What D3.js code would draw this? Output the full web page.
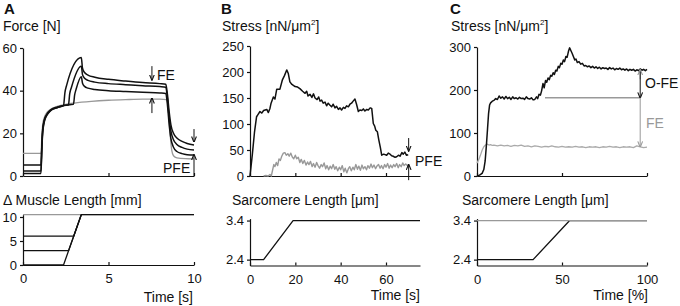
<!DOCTYPE html>
<html>
<head>
<meta charset="utf-8">
<script src="https://cdn.jsdelivr.net/npm/d3@7"></script>
<style>
body{margin:0;background:#fff;}
svg text{font-family:"Liberation Sans",Arial,sans-serif;fill:#111;}
.tick text{font-size:13px;}
.domain,.tick line{stroke:#111;stroke-width:1.2;}
.trace{fill:none;stroke-linejoin:round;}
</style>
</head>
<body>
<div id="chart"></div>
<script>
// ---- panel A: force traces [time s, force N] ----
let forceIso = [[0,10.6],[1.0,10.6],[1.05,10.4],[1.1,18],[1.15,24],[1.25,27.5],[1.4,29.8],[1.6,31.2],[2,32.6],[2.5,33.6],[3,34.2],[4,35],[5,35.5],[6,35.8],[7,36],[8,36],[8.4,35.8],[8.5,31],[8.6,20],[8.7,12],[8.8,9.5],[9,8.5],[9.5,8.1],[10,8]];
let forceStretch0 = [[0,1.2],[1.05,1.2],[1.1,12],[1.15,20],[1.25,25.5],[1.4,28.5],[1.6,30.5],[2,32],[2.37,33],[2.45,39],[2.55,42.5],[3.41,55.5],[3.48,50.5],[3.6,48.5],[3.8,47.3],[4.2,46.3],[5,45.3],[6,44.5],[7,43.8],[8,43.3],[8.35,43],[8.45,38],[8.55,30],[8.65,24],[8.8,20],[9,17.8],[9.3,16.2],[9.6,15.2],[10,14.5]];
let forceStretch3 = [[0,2.3],[1.05,2.3],[1.1,13],[1.15,21],[1.25,26],[1.4,28.8],[1.6,30.7],[2,32.1],[2.4,33],[2.66,33.4],[2.73,38.5],[2.83,41.5],[3.41,51.5],[3.48,47.5],[3.6,45.8],[3.8,44.8],[4.2,44],[5,43.3],[6,42.8],[7,42.3],[8,41.9],[8.35,41.6],[8.45,36],[8.55,27],[8.65,21],[8.8,17],[9,14.8],[9.3,13.4],[9.6,12.6],[10,12.2]];
let forceStretch6 = [[0,5.1],[1.05,5.1],[1.1,14],[1.15,22],[1.25,26.5],[1.4,29],[1.6,30.9],[2,32.3],[2.4,33.1],[2.95,33.6],[3.02,38],[3.1,40.5],[3.41,46.5],[3.48,43.5],[3.6,42],[3.8,41.2],[4.2,40.6],[5,40],[6,39.6],[7,39.2],[8,38.9],[8.35,38.7],[8.45,33],[8.55,24],[8.65,17.5],[8.8,13.5],[9,11.5],[9.3,10.5],[9.6,10],[10,9.8]];

// panel A: muscle length [time s, mm]
let lengthIso = [[0,10.5],[10,10.5]];
let length0 = [[0,0],[2.37,0],[3.41,10.5],[10,10.5]];
let length3 = [[0,3],[2.667,3],[3.41,10.5]];
let length6 = [[0,6],[2.964,6],[3.41,10.5]];

// ---- panel B: stress [time s, nN/um2] ----
let stressStretchB = [[0,0],[1,40],[2,85],[2.9,114],[3.5,118],[4.4,124],[5.2,121],[6,126],[7.4,128],[8.1,122],[8.8,130],[9.3,140],[10.3,152],[11,148],[11.8,167],[13.2,167],[14.3,185],[15.2,193],[16.2,204],[16.9,197],[17.6,181],[18.5,176],[19.9,172],[21,171],[22,168],[23.2,163],[24.3,159],[25,163],[25.6,154],[26.5,157],[27.3,151],[28,158],[28.7,150],[29.6,147],[30.3,152],[30.9,144],[31.6,146],[32.3,140],[33.1,142],[33.8,135],[34.5,140],[35.3,136],[36,133],[36.7,138],[37.5,131],[38.2,134],[39,128],[39.7,131],[40.4,127],[41.2,132],[41.9,130],[42.6,135],[43.4,133],[44.1,138],[44.8,140],[45.5,144],[46.3,148],[47,138],[47.8,124],[48.5,127],[49.3,126],[50,129],[50.7,125],[51.5,128],[52.2,127],[53,131],[53.7,130],[54.4,101],[55,96],[55.5,88],[56.2,85],[56.8,70],[57.5,55],[58.1,40],[59,42],[60.3,40],[61,44],[61.8,42],[62.5,39],[63.2,38],[64,36],[64.7,37],[65.5,40],[66.2,38],[67,45],[67.6,42],[68.3,46],[69,40],[69.8,41]];
let stressPassiveB = [[6,0],[7,1],[8,0],[8.8,3],[9.4,0],[10,12],[10.5,22],[11,18],[11.6,26],[12.2,20],[12.8,33],[13.4,30],[14,38],[14.7,44],[15.4,45],[16,40],[16.7,43],[17.3,38],[18,44],[18.6,37],[19.3,33],[20,40],[20.6,33],[21.3,36],[22,26],[22.6,32],[23.3,24],[24,30],[24.7,21],[25.4,27],[26,22],[26.7,28],[27.4,18],[28,24],[28.7,17],[29.4,26],[30,20],[30.7,15],[31.4,22],[32,18],[32.7,25],[33.4,14],[34,20],[34.7,12],[35.4,19],[36,14],[36.7,22],[37.4,13],[38,18],[38.7,10],[39.4,17],[40,12],[40.7,20],[41.4,8],[42,15],[42.7,6],[43.4,14],[44,18],[44.7,10],[45.4,17],[46,12],[46.7,22],[47.4,13],[48,19],[48.7,11],[49.4,21],[50,14],[50.7,18],[51.4,12],[52,20],[52.7,15],[53.4,23],[54,16],[54.7,21],[55.4,14],[56,19],[56.7,22],[57.4,15],[58,20],[58.7,14],[59.4,22],[60,17],[60.7,24],[61.4,15],[62,21],[62.7,16],[63.4,22],[64,18],[64.7,24],[65.4,16],[66,22],[66.7,18],[67.4,25],[68,20],[68.7,23],[69.4,20],[70,22]];
// sarcomere length [time s, um]
let sarcB = [[0,2.4],[6,2.4],[19,3.4],[75,3.4]];

// ---- panel C: stress [time %, nN/um2] ----
let stressStretchC = [[0,0],[1.5,2],[3,6],[4,15],[4.8,35],[5.5,70],[6.2,110],[6.8,145],[7.4,165],[8,170],[9,174],[10,176],[11,180],[12,178],[13,186],[14,181],[15,184],[16,179],[17,185],[18,180],[19,183],[20,178],[21,184],[22,180],[23,182],[24,179],[25,183],[26,180],[27,181],[28,178],[29,184],[30,180],[31,179],[32,182],[33,177],[34,178],[35,184],[35.7,180],[36.5,190],[37.3,188],[38,198],[38.8,215],[39.5,205],[40.3,222],[41,218],[41.8,228],[42.5,224],[43.3,234],[44,232],[44.8,240],[45.5,236],[46.3,246],[47,244],[47.8,255],[48.5,252],[49.3,262],[50,260],[50.8,270],[51.5,266],[52.3,278],[53,276],[53.8,290],[54.5,298],[55.2,292],[56,285],[56.7,278],[57.5,270],[58.2,272],[59,264],[60,266],[61,260],[62,262],[63,256],[64,257],[65,254],[66,256],[67,252],[68,255],[69,251],[70,254],[71,250],[72,253],[73,249],[74,252],[75,250],[76,251],[77,248],[78,252],[79,249],[80,251],[81,247],[82,250],[83,248],[84,251],[85,247],[86,249],[87,246],[88,249],[89,245],[90,248],[91,246],[92,248],[93,244],[94,247],[95,245],[96,249],[97,246],[98,248],[99,245],[100,248]];
let stressIsoC = [[0,30],[1,38],[2,48],[3,60],[4,68],[5,72],[6,74],[7,72],[8,73],[9,71],[10,72],[12,70],[14,72],[16,70],[18,71],[20,69],[22,71],[24,70],[26,72],[28,69],[30,70],[32,68],[34,70],[36,69],[38,67],[40,69],[42,68],[44,70],[46,68],[48,67],[50,69],[52,67],[54,68],[56,67],[58,69],[60,67],[62,68],[64,66],[66,68],[68,67],[70,68],[72,66],[74,68],[76,67],[78,69],[80,67],[82,68],[84,66],[86,68],[88,67],[90,68],[92,66],[94,70],[96,68],[98,66],[100,67]];
let refLevelC = [[40,182],[96,182]];
let sarcStretchC = [[0,2.4],[33,2.4],[54.5,3.4],[100,3.4]];
let sarcIsoC = [[0,3.4],[100,3.4]];

// tick values
let ticksA = {x:[0,5,10], y:[0,20,40,60], yLen:[0,5,10]};
let ticksB = {x:[0,20,40,60], y:[0,50,100,150,200,250]};
let ticksC = {x:[0,50,100], y:[0,100,200,300]};
let ticksSarc = [2.4,3.4];

// annotation arrows [x, from, to]
let arrowsA = [[7.54,51.5,45,'#111'],[7.54,29.5,36.5,'#111'],[10,22,16,'#111'],[10,0,10,'#111']];
let arrowsB = [[70,73,48,'#111'],[70,-8,22,'#111']];
let arrowsC = [[96,225,247,'#999'],[96,243,182,'#111'],[96,182,68,'#999']];

let svg = d3.select("#chart").append("svg")
    .attr("width", 680)
    .attr("height", 306);

// arrow heads
let defs = svg.append("defs");
[['#111','ab'],['#999','ag']].forEach(c => {
    defs.append("marker")
        .attr("id", c[1])
        .attr("viewBox", "0 0 10 10")
        .attr("refX", 9).attr("refY", 5)
        .attr("markerWidth", 6).attr("markerHeight", 6)
        .attr("markerUnits", "userSpaceOnUse")
        .attr("orient", "auto")
        .append("path")
        .attr("d", "M0,1L10,5L0,9")
        .attr("fill", "none")
        .attr("stroke", c[0])
        .attr("stroke-width", 1.8);
});

function addAxes(x, y, xTicks, yTicks, xLabels, yFmt){
    svg.append("g")
        .attr("transform", `translate(0,${y.range()[0]})`)
        .call(d3.axisBottom(x).tickValues(xTicks).tickSizeInner(-3).tickSizeOuter(0)
            .tickPadding(9).tickFormat(xLabels ? d3.format("d") : ""));
    svg.append("g")
        .attr("transform", `translate(${x.range()[0]},0)`)
        .call(d3.axisLeft(y).tickValues(yTicks).tickSizeInner(3).tickSizeOuter(0)
            .tickPadding(3).tickFormat(yFmt));
}

function addTrace(x, y, data, color, width, curve){
    let line = d3.line()
        .x(d => x(d[0]))
        .y(d => y(d[1]))
        .curve(curve || d3.curveLinear);
    svg.append("path")
        .datum(data)
        .attr("class", "trace")
        .attr("stroke", color)
        .attr("stroke-width", width)
        .attr("d", line);
}

function addArrows(x, y, arrows){
    arrows.forEach(a => {
        svg.append("line")
            .attr("x1", x(a[0])).attr("x2", x(a[0]))
            .attr("y1", y(a[1])).attr("y2", y(a[2]))
            .attr("stroke", a[3])
            .attr("stroke-width", 1)
            .attr("marker-end", a[3] === '#999' ? "url(#ag)" : "url(#ab)");
    });
}

function addText(x, y, txt, opts){
    opts = opts || {};
    return svg.append("text")
        .attr("x", x).attr("y", y)
        .attr("font-size", opts.size || 14)
        .attr("font-weight", opts.bold ? "bold" : "normal")
        .attr("text-anchor", opts.anchor || "start")
        .style("fill", opts.color || "#111")
        .text(txt);
}

function stressTitle(x){
    let t = addText(x, 31, "Stress [nN/\u03bcm");
    t.append("tspan").attr("font-size", 8).attr("dy", -6).text("2");
    t.append("tspan").attr("dy", 6).text("]");
}

let grey = "#999";

// ---------- panel A ----------
let xA = d3.scaleLinear().domain([0,10]).range([23,194]);
let yA = d3.scaleLinear().domain([0,60]).range([176,48]);
addAxes(xA, yA, ticksA.x, ticksA.y, false, d3.format("d"));
addTrace(xA, yA, forceIso, grey, 1.3, d3.curveMonotoneX);
addTrace(xA, yA, forceStretch6, "#111", 1.5, d3.curveMonotoneX);
addTrace(xA, yA, forceStretch3, "#111", 1.5, d3.curveMonotoneX);
addTrace(xA, yA, forceStretch0, "#111", 1.5, d3.curveMonotoneX);
addArrows(xA, yA, arrowsA);

let yAL = d3.scaleLinear().domain([0,10.5]).range([265,214.6]);
addAxes(xA, yAL, ticksA.x, ticksA.yLen, true, d3.format("d"));
addTrace(xA, yAL, lengthIso, grey, 1.3);
addTrace(xA, yAL, length6, "#111", 1.3);
addTrace(xA, yAL, length3, "#111", 1.3);
addTrace(xA, yAL, length0, "#111", 1.3);

addText(4, 14, "A", {bold:true, size:15});
addText(3, 31, "Force [N]");
addText(157, 80, "FE");
addText(163, 173, "PFE");
addText(3, 205, "\u0394 Muscle Length [mm]");
addText(193, 302, "Time [s]", {anchor:"end"});

// ---------- panel B ----------
let xB = d3.scaleLinear().domain([0,75]).range([250,420]);
let yB = d3.scaleLinear().domain([0,250]).range([176,46]);
addAxes(xB, yB, ticksB.x, ticksB.y, false, d3.format("d"));
addTrace(xB, yB, stressPassiveB, grey, 1.4);
addTrace(xB, yB, stressStretchB, "#111", 1.5);
addArrows(xB, yB, arrowsB);

let ySB = d3.scaleLinear().domain([2.25,3.45]).range([265.5,218.6]);
addAxes(xB, ySB, ticksB.x, ticksSarc, true, d3.format(".1f"));
addTrace(xB, ySB, sarcB, "#111", 1.3);

addText(221, 14, "B", {bold:true, size:15});
stressTitle(222);
addText(415, 166, "PFE");
addText(232, 205, "Sarcomere Length [\u03bcm]");
addText(420, 300, "Time [s]", {anchor:"end"});

// ---------- panel C ----------
let xC = d3.scaleLinear().domain([0,100]).range([477,647]);
let yC = d3.scaleLinear().domain([0,300]).range([176,47]);
addAxes(xC, yC, ticksC.x, ticksC.y, false, d3.format("d"));
addTrace(xC, yC, stressIsoC, "#aaa", 1.3);
addTrace(xC, yC, refLevelC, grey, 1.5);
addTrace(xC, yC, stressStretchC, "#111", 1.5);
addArrows(xC, yC, arrowsC);

let ySC = d3.scaleLinear().domain([2.25,3.45]).range([265.5,218.6]);
addAxes(xC, ySC, ticksC.x, ticksSarc, true, d3.format(".1f"));
addTrace(xC, ySC, sarcStretchC, "#111", 1.3);
addTrace(xC, ySC, sarcIsoC, grey, 1.3);

addText(450, 14, "C", {bold:true, size:15});
stressTitle(451);
addText(645, 88, "O-FE");
addText(646, 128, "FE", {color:grey});
addText(462, 205, "Sarcomere Length [\u03bcm]");
addText(648, 300, "Time [%]", {anchor:"end"});
</script>
</body>
</html>
